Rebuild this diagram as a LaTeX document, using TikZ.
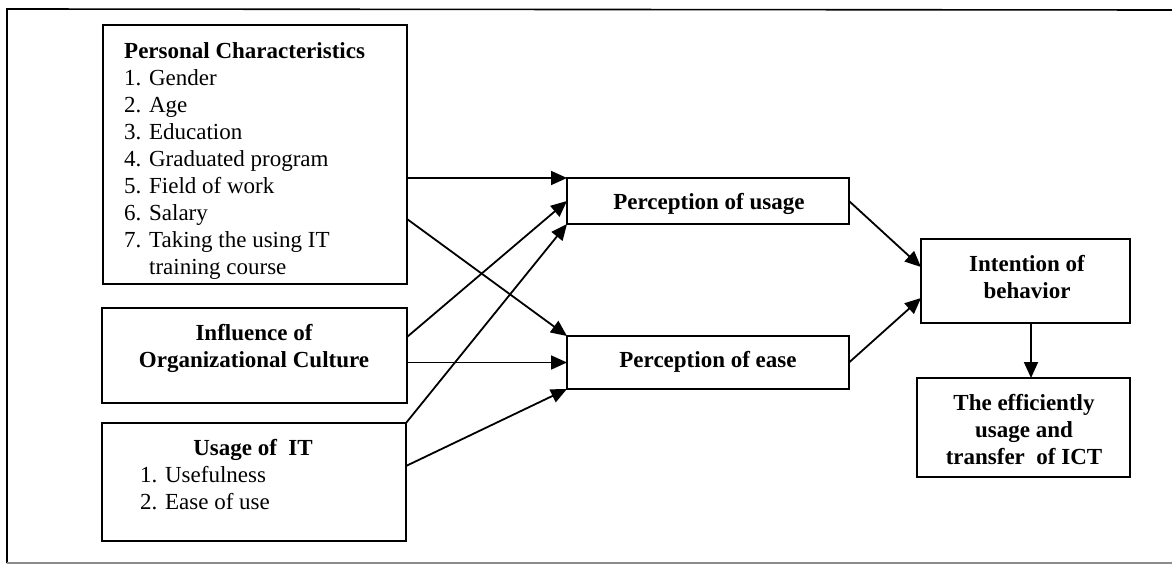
\documentclass[tikz,border=0pt]{standalone}
\usepackage{fontspec}
\setmainfont{Liberation Serif}
\usetikzlibrary{arrows.meta,calc}
\begin{document}
\begin{tikzpicture}[x=1pt,y=-1pt,
  box/.style={draw,line width=1.8pt,inner sep=0pt,outer sep=0pt},
  txt/.style={inner sep=0pt,font=\fontsize{23}{27}\selectfont},
  btxt/.style={txt,font=\fontsize{23}{27}\selectfont\bfseries},
  arr/.style={line width=1.8pt,-{Triangle[length=16pt,width=14pt]}},
  frame/.style={line width=1.6pt}]
\useasboundingbox (0,0) rectangle (1172,564);
% outer frame
\draw[frame] (7,563) -- (7,9) -- (1172,10);
\draw[frame,black!45] (7,563) -- (1172,563);
% boxes
\node[box,minimum width=304pt,minimum height=259pt] (pc) at (255,154.5) {};
\node[box,minimum width=305pt,minimum height=95pt] (inf) at (254.5,355.5) {};
\node[box,minimum width=304pt,minimum height=118pt] (use) at (254,482) {};
\node[box,minimum width=282pt,minimum height=46pt] (pu) at (708,201) {};
\node[box,minimum width=282pt,minimum height=53pt] (pe) at (708,362.5) {};
\node[box,minimum width=209pt,minimum height=84pt] (ib) at (1025.5,281) {};
\node[box,minimum width=213pt,minimum height=99pt] (ef) at (1023.5,427.5) {};
% texts
\node[txt,align=left,anchor=north west] (pct) at (124,42.4)
  {\textbf{Personal Characteristics}\\1. Gender\\2. Age\\3. Education\\4. Graduated program\\5. Field of work\\6. Salary\\7. Taking the using IT\\\phantom{7. }training course};
\node[btxt,align=center,anchor=north] (inft) at (254,324.4)
  {Influence of\\Organizational Culture};
\node[btxt,anchor=base] (uset) at (253,455) {Usage of~ IT};
\node[txt,align=left,anchor=north west] (usel) at (140,466.4)
  {1. Usefulness\\2. Ease of use};
\node[btxt,anchor=base] (put) at (709,210) {Perception of usage};
\node[btxt,anchor=base] (pet) at (708,367) {Perception of ease};
\node[btxt,align=center,anchor=north] (ibt) at (1027,255.4)
  {Intention of\\behavior};
\node[btxt,align=center,anchor=north] (eft) at (1024,394.4)
  {The efficiently\\usage and\\transfer~ of ICT};
% connectors
\draw[arr] (pc.east |- pu.north west) -- (pu.north west);
\draw[arr] ([yshift=-64.5pt]pc.east) -- (pe.north west);
\draw[arr] ([yshift=18.5pt]inf.east) -- (pu.west);
\draw[arr] (inf.east |- pe.west) -- (pe.west);
\draw[arr] (use.north east) -- (pu.south west);
\draw[arr] ([yshift=16pt]use.east) -- (pe.south west);
\draw[arr] (pu.east) -- ([yshift=14pt]ib.west);
\draw[arr] (pe.east) -- ([yshift=-17pt]ib.west);
\draw[arr] ([xshift=5.5pt]ib.south) -- ([xshift=5.5pt]ib.south |- ef.north);
\end{tikzpicture}
\end{document}
